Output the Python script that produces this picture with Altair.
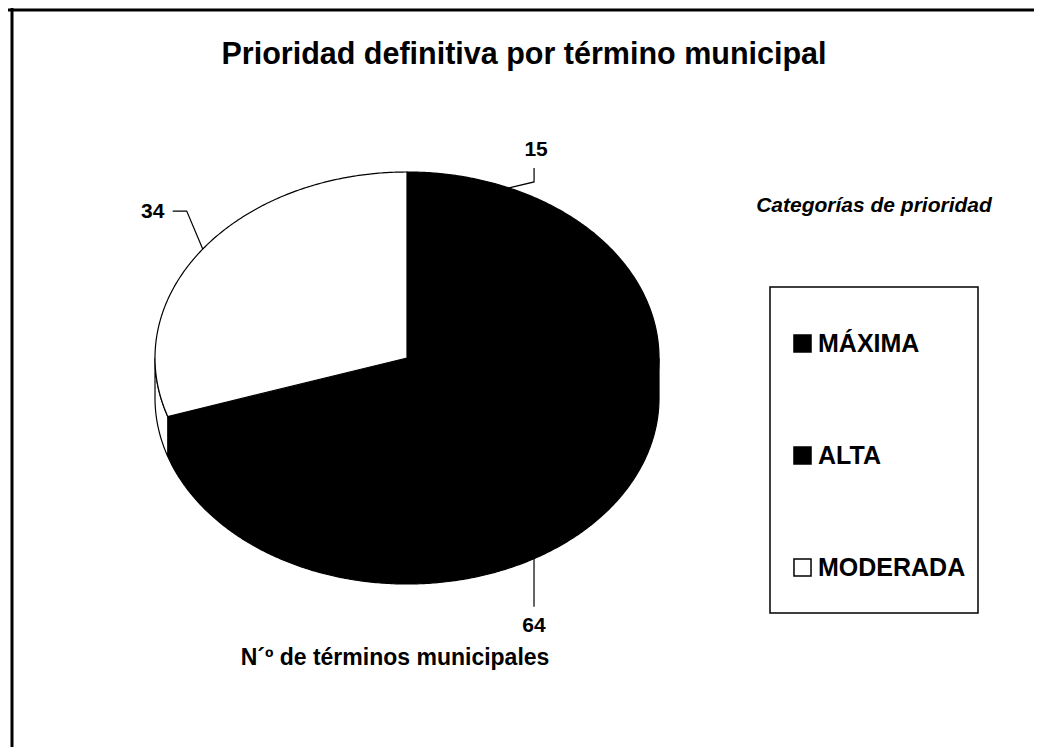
import math
import altair as alt
import pandas as pd

# ---------------- data ----------------
categories = ["MÁXIMA", "ALTA", "MODERADA"]
counts = [15, 64, 34]
slice_colors = ["#000000", "#000000", "#ffffff"]

TITLE = "Prioridad definitiva por término municipal"
LEGEND_TITLE = "Categorías de prioridad"
VALUE_NOTE = "N´º de términos municipales"

# ---------------- layout / style (page pixels) ----------------
W, H = 1026, 739           # whole drawing (page minus 8px margin)
OX, OY = 8, 8              # page offset of the drawing
CX, CY, RX, RY, DEPTH = 407, 358, 252, 186, 40   # tilted pie geometry
FONT = "Liberation Sans"

# leader line offsets from the slice's edge anchor: (elbow, end, label centre)
LEADERS = {
    "MÁXIMA": [(25, -6), (25, -20), (27, -38)],
    "ALTA": [(0, 24), (0, 48), (0, 67)],
    "MODERADA": [(-16, -38), (-30, -38), (-50, -37)],
}


def pt(theta_deg, drop=0.0):
    t = math.radians(theta_deg)
    return CX + RX * math.sin(t), CY - RY * math.cos(t) + drop


total = sum(counts)
top_rows, side_rows, lead_rows, lab_rows = [], [], [], []
start = 0.0
for cat, n in zip(categories, counts):
    span = 360.0 * n / total
    a0, a1 = start, start + span
    steps = max(2, int(span * 2))
    verts = [(CX, CY)] + [pt(a0 + span * k / steps) for k in range(steps + 1)] + [(CX, CY)]
    for i, (x, y) in enumerate(verts):
        top_rows.append(dict(cat=cat, poly=cat + "_top", i=i, x=x, y=y))
    lo, hi = max(a0, 90.0), min(a1, 270.0)
    if hi > lo:
        st = max(2, int((hi - lo) * 2))
        arc = [lo + (hi - lo) * k / st for k in range(st + 1)]
        verts = [pt(a) for a in arc] + [pt(a, DEPTH) for a in reversed(arc)] + [pt(arc[0])]
        for i, (x, y) in enumerate(verts):
            side_rows.append(dict(cat=cat, poly=cat + "_side", i=i, x=x, y=y))
    mid = (a0 + a1) / 2
    drop = DEPTH if 90 < mid < 270 else 0
    ax, ay = pt(mid, drop)
    (e1, e2, lc) = LEADERS[cat]
    for i, (dx, dy) in enumerate([(0, 0), e1, e2]):
        lead_rows.append(dict(cat=cat, i=i, x=ax + dx, y=ay + dy))
    lab_rows.append(dict(cat=cat, text=str(n), x=ax + lc[0], y=ay + lc[1]))
    start = a1

top_df = pd.DataFrame(top_rows)
side_df = pd.DataFrame(side_rows)
lead_df = pd.DataFrame(lead_rows)
lab_df = pd.DataFrame(lab_rows)

xs = alt.Scale(domain=[OX, OX + W], range=[0, W])
ys = alt.Scale(domain=[OY, OY + H], range=[0, H])
X = lambda f="x": alt.X(f"{f}:Q", scale=xs, axis=None)
Y = lambda f="y": alt.Y(f"{f}:Q", scale=ys, axis=None)

fill_enc = alt.Fill(
    "cat:N",
    scale=alt.Scale(domain=categories, range=slice_colors),
    legend=alt.Legend(
        orient="none", legendX=790 - OX, legendY=331 - OY, title=None,
        symbolType="square", symbolSize=290, symbolStrokeColor="black",
        symbolStrokeWidth=1.5, labelFont=FONT, labelFontSize=25,
        labelFontWeight="bold", labelColor="black", labelOffset=3,
        rowPadding=86, padding=0, labelLimit=300,
    ),
)

side = alt.Chart(side_df).mark_line(stroke="black", strokeWidth=1.2).encode(
    x=X(), y=Y(), fill=fill_enc, detail="poly:N", order="i:Q")
top = alt.Chart(top_df).mark_line(stroke="black", strokeWidth=1.2).encode(
    x=X(), y=Y(), fill=fill_enc, detail="poly:N", order="i:Q")
leaders = alt.Chart(lead_df).mark_line(color="black", strokeWidth=1.2).encode(
    x=X(), y=Y(), detail="cat:N", order="i:Q")
labels = alt.Chart(lab_df).mark_text(
    font=FONT, fontSize=21, fontWeight="bold", color="black", baseline="middle"
).encode(x=X(), y=Y(), text="text:N")

texts_df = pd.DataFrame([
    dict(t=TITLE, x=524, y=55, size=30.5),
    dict(t=VALUE_NOTE, x=395, y=658, size=23),
])
texts = alt.Chart(texts_df).mark_text(
    font=FONT, fontWeight="bold", color="black", baseline="middle"
).encode(x=X(), y=Y(), text="t:N", size=alt.Size("size:Q", scale=None, legend=None))

legend_title = alt.Chart(pd.DataFrame([dict(t=LEGEND_TITLE, x=874, y=206)])).mark_text(
    font=FONT, fontWeight="bold", fontStyle="italic", fontSize=21, color="black",
    baseline="middle"
).encode(x=X(), y=Y(), text="t:N")

box = alt.Chart(pd.DataFrame([dict(x=770, x2=978, y=287, y2=613)])).mark_rect(
    fill=None, stroke="black", strokeWidth=1.5
).encode(x=X(), x2="x2:Q", y=Y(), y2="y2:Q")

frame = alt.Chart(pd.DataFrame([
    dict(x=8, x2=1034, y=10, y2=10),
    dict(x=12, x2=12, y=8, y2=747),
])).mark_rule(color="black", strokeWidth=3).encode(x=X(), x2="x2:Q", y=Y(), y2="y2:Q")

chart = alt.layer(side, top, leaders, labels, texts, legend_title, box, frame).properties(
    width=W, height=H, padding=0, autosize="none"
).configure_view(stroke=None)

chart.save("out.html", embed_options={"renderer": "svg", "actions": False})
